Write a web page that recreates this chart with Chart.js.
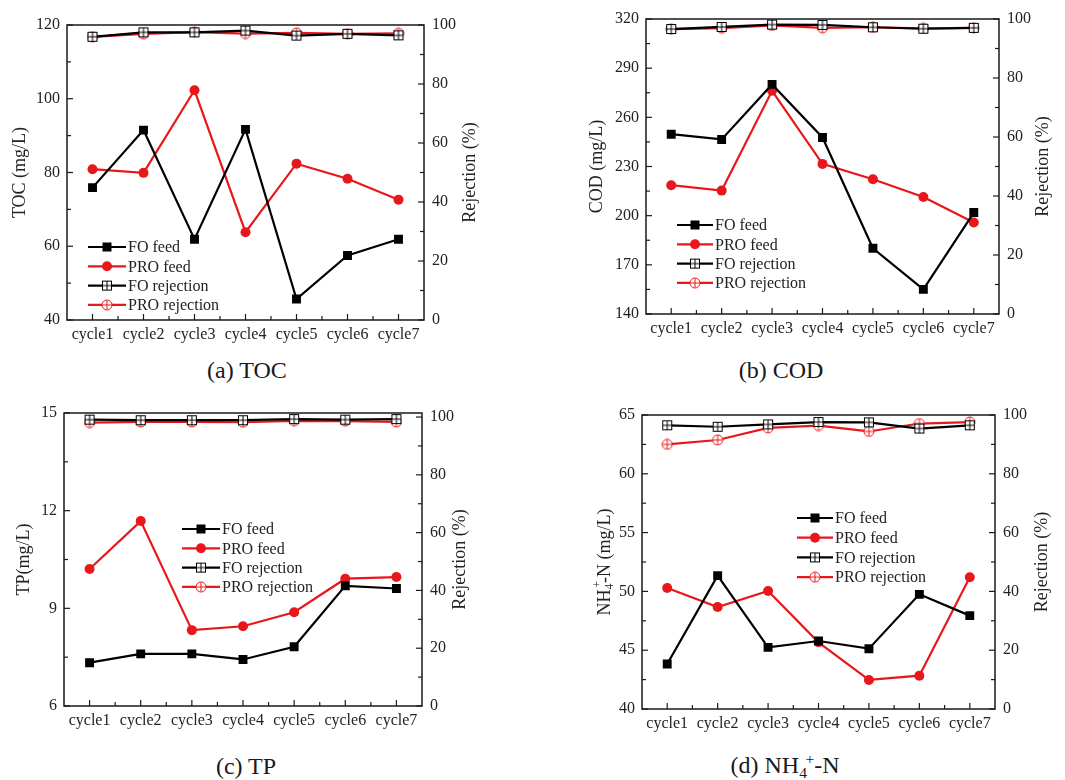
<!DOCTYPE html>
<html>
<head>
<meta charset="utf-8">
<script src="https://cdn.jsdelivr.net/npm/chart.js@4.4.0/dist/chart.umd.min.js"></script>
<style>
  body{margin:0;background:#fff;width:1065px;height:780px;position:relative;overflow:hidden;font-family:"Liberation Serif","Times New Roman",serif;}
  canvas{position:absolute;}
  .cap{position:absolute;font-size:24px;color:#1a1a1a;transform:translate(-50%,-50%);white-space:nowrap;}
  .cap sub{font-size:0.65em;vertical-align:-0.35em;}
  .cap sup{font-size:0.65em;vertical-align:0.55em;margin-left:-0.1em;}
</style>
</head>
<body>
<canvas id="cA" width="530" height="345"></canvas>
<canvas id="cB" width="535" height="345"></canvas>
<canvas id="cC" width="530" height="345"></canvas>
<canvas id="cD" width="535" height="345"></canvas>
<div class="cap" style="left:247px;top:370px">(a) TOC</div>
<div class="cap" style="left:781px;top:370px">(b) COD</div>
<div class="cap" style="left:246px;top:766px">(c) TP</div>
<div class="cap" style="left:785px;top:766px">(d) NH<sub>4</sub><sup>+</sup>-N</div>
<script>
// cycles on the x axis
const CYCLES = ["cycle1","cycle2","cycle3","cycle4","cycle5","cycle6","cycle7"];
const SERIES = ["FO feed","PRO feed","FO rejection","PRO rejection"];

// (a) TOC, mg/L and %
const TOC_FO_FEED  = [75.9, 91.5, 61.9, 91.7, 45.7, 57.5, 61.9];
const TOC_PRO_FEED = [80.9, 79.9, 102.3, 63.8, 82.4, 78.3, 72.6];
const TOC_FO_REJ   = [96.0, 97.5, 97.5, 98.1, 96.4, 97.0, 96.5];
const TOC_PRO_REJ  = [96.0, 97.0, 97.6, 97.1, 97.3, 97.0, 97.2];
const TOC_AXIS = [40, 120, 20];

// (b) COD
const COD_FO_FEED  = [249.7, 246.5, 280.1, 247.7, 180.1, 155.0, 201.9];
const COD_PRO_FEED = [218.6, 215.3, 276.2, 231.6, 222.2, 211.4, 195.8];
const COD_FO_REJ   = [96.6, 97.3, 98.1, 98.0, 97.2, 96.7, 97.0];
const COD_PRO_REJ  = [96.6, 96.9, 97.8, 97.0, 97.2, 96.8, 97.0];
const COD_AXIS = [140, 320, 30];

// (c) TP
const TP_FO_FEED  = [7.33, 7.60, 7.60, 7.43, 7.82, 9.69, 9.61];
const TP_PRO_FEED = [10.21, 11.68, 8.33, 8.45, 8.88, 9.91, 9.96];
const TP_FO_REJ   = [99.1, 98.9, 98.9, 98.9, 99.3, 99.1, 99.3];
const TP_PRO_REJ  = [98.1, 98.3, 98.3, 98.2, 98.7, 98.6, 98.3];
const TP_AXIS = [6, 15, 3];

// (d) NH4+-N
const NH_FO_FEED  = [43.83, 51.34, 45.24, 45.78, 45.13, 49.75, 47.94];
const NH_PRO_FEED = [50.29, 48.67, 50.03, 45.67, 42.47, 42.83, 51.2];
const NH_FO_REJ   = [96.5, 96.0, 96.8, 97.6, 97.5, 95.4, 96.5];
const NH_PRO_REJ  = [90.0, 91.5, 95.6, 96.4, 94.4, 97.1, 97.6];
const NH_AXIS = [40, 65, 5];

const REJ_TICKS = [0, 100, 20];

const BLACK = "#000000", RED = "#e8171b", INK = "#222";
const FONT = '"Liberation Serif","Times New Roman",serif';
Chart.defaults.font.family = FONT;
Chart.defaults.color = INK;

function markerImg(kind, color){
  const c = document.createElement("canvas"); c.width = 12; c.height = 12;
  const g = c.getContext("2d"); g.strokeStyle = color; g.lineWidth = 1; g.fillStyle = "#fff";
  if(kind==="sq"){ g.fillRect(1,1,10,10); g.strokeRect(1.5,1.5,9,9); }
  else { g.beginPath(); g.arc(6,6,5,0,Math.PI*2); g.fill(); g.stroke(); }
  g.beginPath(); g.moveTo(6,1.5); g.lineTo(6,10.5); g.moveTo(1.5,6); g.lineTo(10.5,6); g.stroke();
  return c;
}
const SQ_PLUS = markerImg("sq", BLACK);
const CI_PLUS = markerImg("ci", RED);

// rotated text, parts = [text, "n"|"sub"|"sup"]
function drawVText(ctx, parts, cx, cy, size){
  ctx.save(); ctx.translate(cx, cy); ctx.rotate(-Math.PI/2);
  ctx.fillStyle = INK; ctx.textBaseline = "middle"; ctx.textAlign = "left";
  const fnt = s => `${s}px ${FONT}`;
  let total = 0;
  const w = parts.map(([t,k])=>{ ctx.font = fnt(k==="n"?size:size*0.65); return ctx.measureText(t).width; });
  parts.forEach(([t,k],i)=>{ if(k==="sup" && parts[i-1] && parts[i-1][1]==="sub") total += Math.max(0, w[i]-w[i-1]); else total += w[i]; });
  let x = -total/2;
  parts.forEach(([t,k],i)=>{
    ctx.font = fnt(k==="n"?size:size*0.65);
    if(k==="sup" && parts[i-1] && parts[i-1][1]==="sub"){ ctx.fillText(t, x - w[i-1] + 2, -size*0.42); x += Math.max(0, w[i]-w[i-1]); return; }
    ctx.fillText(t, x, k==="sub"? size*0.3 : k==="sup"? -size*0.42 : 0);
    x += w[i];
  });
  ctx.restore();
}

// frame, inward ticks, axis titles and legend
const framePlugin = {
  id: "frame",
  afterDraw(chart, args, o){
    const {ctx, chartArea:a, scales} = chart;
    ctx.save();
    ctx.strokeStyle = "#1a1a1a"; ctx.lineWidth = 1.5;
    ctx.strokeRect(a.left, a.top, a.right-a.left, a.bottom-a.top);
    ctx.lineWidth = 1.2;
    const tick = (x1,y1,x2,y2)=>{ ctx.beginPath(); ctx.moveTo(x1,y1); ctx.lineTo(x2,y2); ctx.stroke(); };
    [["y",1],["y2",-1]].forEach(([id,dir])=>{
      const s = scales[id], edge = dir>0 ? a.left : a.right, vals = s.ticks.map(t=>t.value);
      vals.forEach((v,i)=>{
        const p = s.getPixelForValue(v); tick(edge, p, edge+dir*6, p);
        if(i<vals.length-1){ const m = s.getPixelForValue((v+vals[i+1])/2); tick(edge, m, edge+dir*4, m); }
      });
    });
    const x = scales.x;
    CYCLES.forEach((c,i)=>{
      const p = x.getPixelForValue(i); tick(p, a.bottom, p, a.bottom-6);
      if(i<CYCLES.length-1){ const m = x.getPixelForValue(i+0.5); tick(m, a.bottom, m, a.bottom-4); }
    });
    const cy = (a.top+a.bottom)/2;
    drawVText(ctx, o.leftTitle, o.leftX, cy, 18);
    drawVText(ctx, [["Rejection (%)","n"]], o.rightX, cy, 18);
    // legend
    const L = o.legend;
    chart.data.datasets.forEach((d,i)=>{
      const y = L.y + i*L.dy, cx = L.x + L.w/2;
      ctx.strokeStyle = d.borderColor; ctx.lineWidth = 2.2;
      tick(L.x, y, L.x+L.w, y);
      if(d.pointStyle==="rect"){ ctx.fillStyle = d.borderColor; ctx.fillRect(cx-4.5, y-4.5, 9, 9); }
      else if(d.pointStyle==="circle"){ ctx.fillStyle = d.borderColor; ctx.beginPath(); ctx.arc(cx, y, 5, 0, Math.PI*2); ctx.fill(); }
      else ctx.drawImage(d.pointStyle, cx-6, y-6);
      ctx.fillStyle = INK; ctx.font = `16px ${FONT}`; ctx.textAlign = "left"; ctx.textBaseline = "middle";
      ctx.fillText(d.label, L.x+L.w+2, y+1);
    });
    ctx.restore();
  }
};

function makePanel(id, geo, yAxis, rejMax, sets, extra){
  const cv = document.getElementById(id);
  cv.style.left = geo.x+"px"; cv.style.top = geo.y+"px";
  const W = cv.width, H = cv.height;
  const [al, ar, at, ab] = [geo.area[0]-geo.x, geo.area[1]-geo.x, geo.area[2]-geo.y, geo.area[3]-geo.y];
  const styles = [
    {c:BLACK, ps:"rect", r:6.3, ax:"y"},
    {c:RED, ps:"circle", r:5, ax:"y"},
    {c:BLACK, ps:SQ_PLUS, r:6, ax:"y2"},
    {c:RED, ps:CI_PLUS, r:6, ax:"y2"}
  ];
  const datasets = sets.map((data,i)=>({
    label: SERIES[i], data, yAxisID: styles[i].ax,
    borderColor: styles[i].c, backgroundColor: styles[i].c,
    pointStyle: styles[i].ps, pointRadius: styles[i].r,
    pointBackgroundColor: styles[i].c, pointBorderColor: styles[i].c, pointBorderWidth: 0,
    borderWidth: 2.2, tension: 0, fill: false
  }));
  const noGrid = {display:false, drawTicks:false};
  const tickFont = {size:16, family:FONT};
  new Chart(cv, {
    type: "line",
    data: {labels: CYCLES, datasets},
    options: {
      responsive: false, animation: false,
      layout: {padding: {top: at, left: 0, right: 0, bottom: 0}},
      plugins: {legend:{display:false}, tooltip:{enabled:false}, frame: extra},
      scales: {
        x: {offset:true, grid:noGrid, border:{display:false},
            ticks:{font:tickFont, color:INK, padding:5, autoSkip:false, maxRotation:0},
            afterFit(s){ s.height = H - ab; }},
        y: {position:"left", min:yAxis[0], max:yAxis[1], grid:noGrid, border:{display:false},
            ticks:{stepSize:yAxis[2], font:tickFont, color:INK, padding:7},
            afterFit(s){ s.width = al; }},
        y2: {position:"right", min:REJ_TICKS[0], max:rejMax, grid:noGrid, border:{display:false},
            ticks:{stepSize:REJ_TICKS[2], includeBounds:false, font:tickFont, color:INK, padding:8},
            afterFit(s){ s.width = W - ar; }}
      }
    },
    plugins: [framePlugin]
  });
}

makePanel("cA", {x:0, y:0, area:[67,424,25,320]}, TOC_AXIS, 100,
  [TOC_FO_FEED, TOC_PRO_FEED, TOC_FO_REJ, TOC_PRO_REJ],
  {leftTitle:[["TOC (mg/L)","n"]], leftX:20, rightX:470, legend:{x:88, w:38, y:247, dy:19.3}});

makePanel("cB", {x:530, y:0, area:[646,999,19,314]}, COD_AXIS, 100,
  [COD_FO_FEED, COD_PRO_FEED, COD_FO_REJ, COD_PRO_REJ],
  {leftTitle:[["COD (mg/L)","n"]], leftX:67, rightX:513, legend:{x:147, w:36, y:225, dy:19.3}});

makePanel("cC", {x:0, y:390, area:[64,422,413,706]}, TP_AXIS, 101.4,
  [TP_FO_FEED, TP_PRO_FEED, TP_FO_REJ, TP_PRO_REJ],
  {leftTitle:[["TP(mg/L)","n"]], leftX:24, rightX:460, legend:{x:182, w:38, y:139, dy:19.3}});

makePanel("cD", {x:530, y:390, area:[642,995,415,709]}, NH_AXIS, 100,
  [NH_FO_FEED, NH_PRO_FEED, NH_FO_REJ, NH_PRO_REJ],
  {leftTitle:[["NH","n"],["4","sub"],["+","sup"],["-N (mg/L)","n"]], leftX:75, rightX:512, legend:{x:267, w:36, y:128, dy:19.7}});
</script>
</body>
</html>
